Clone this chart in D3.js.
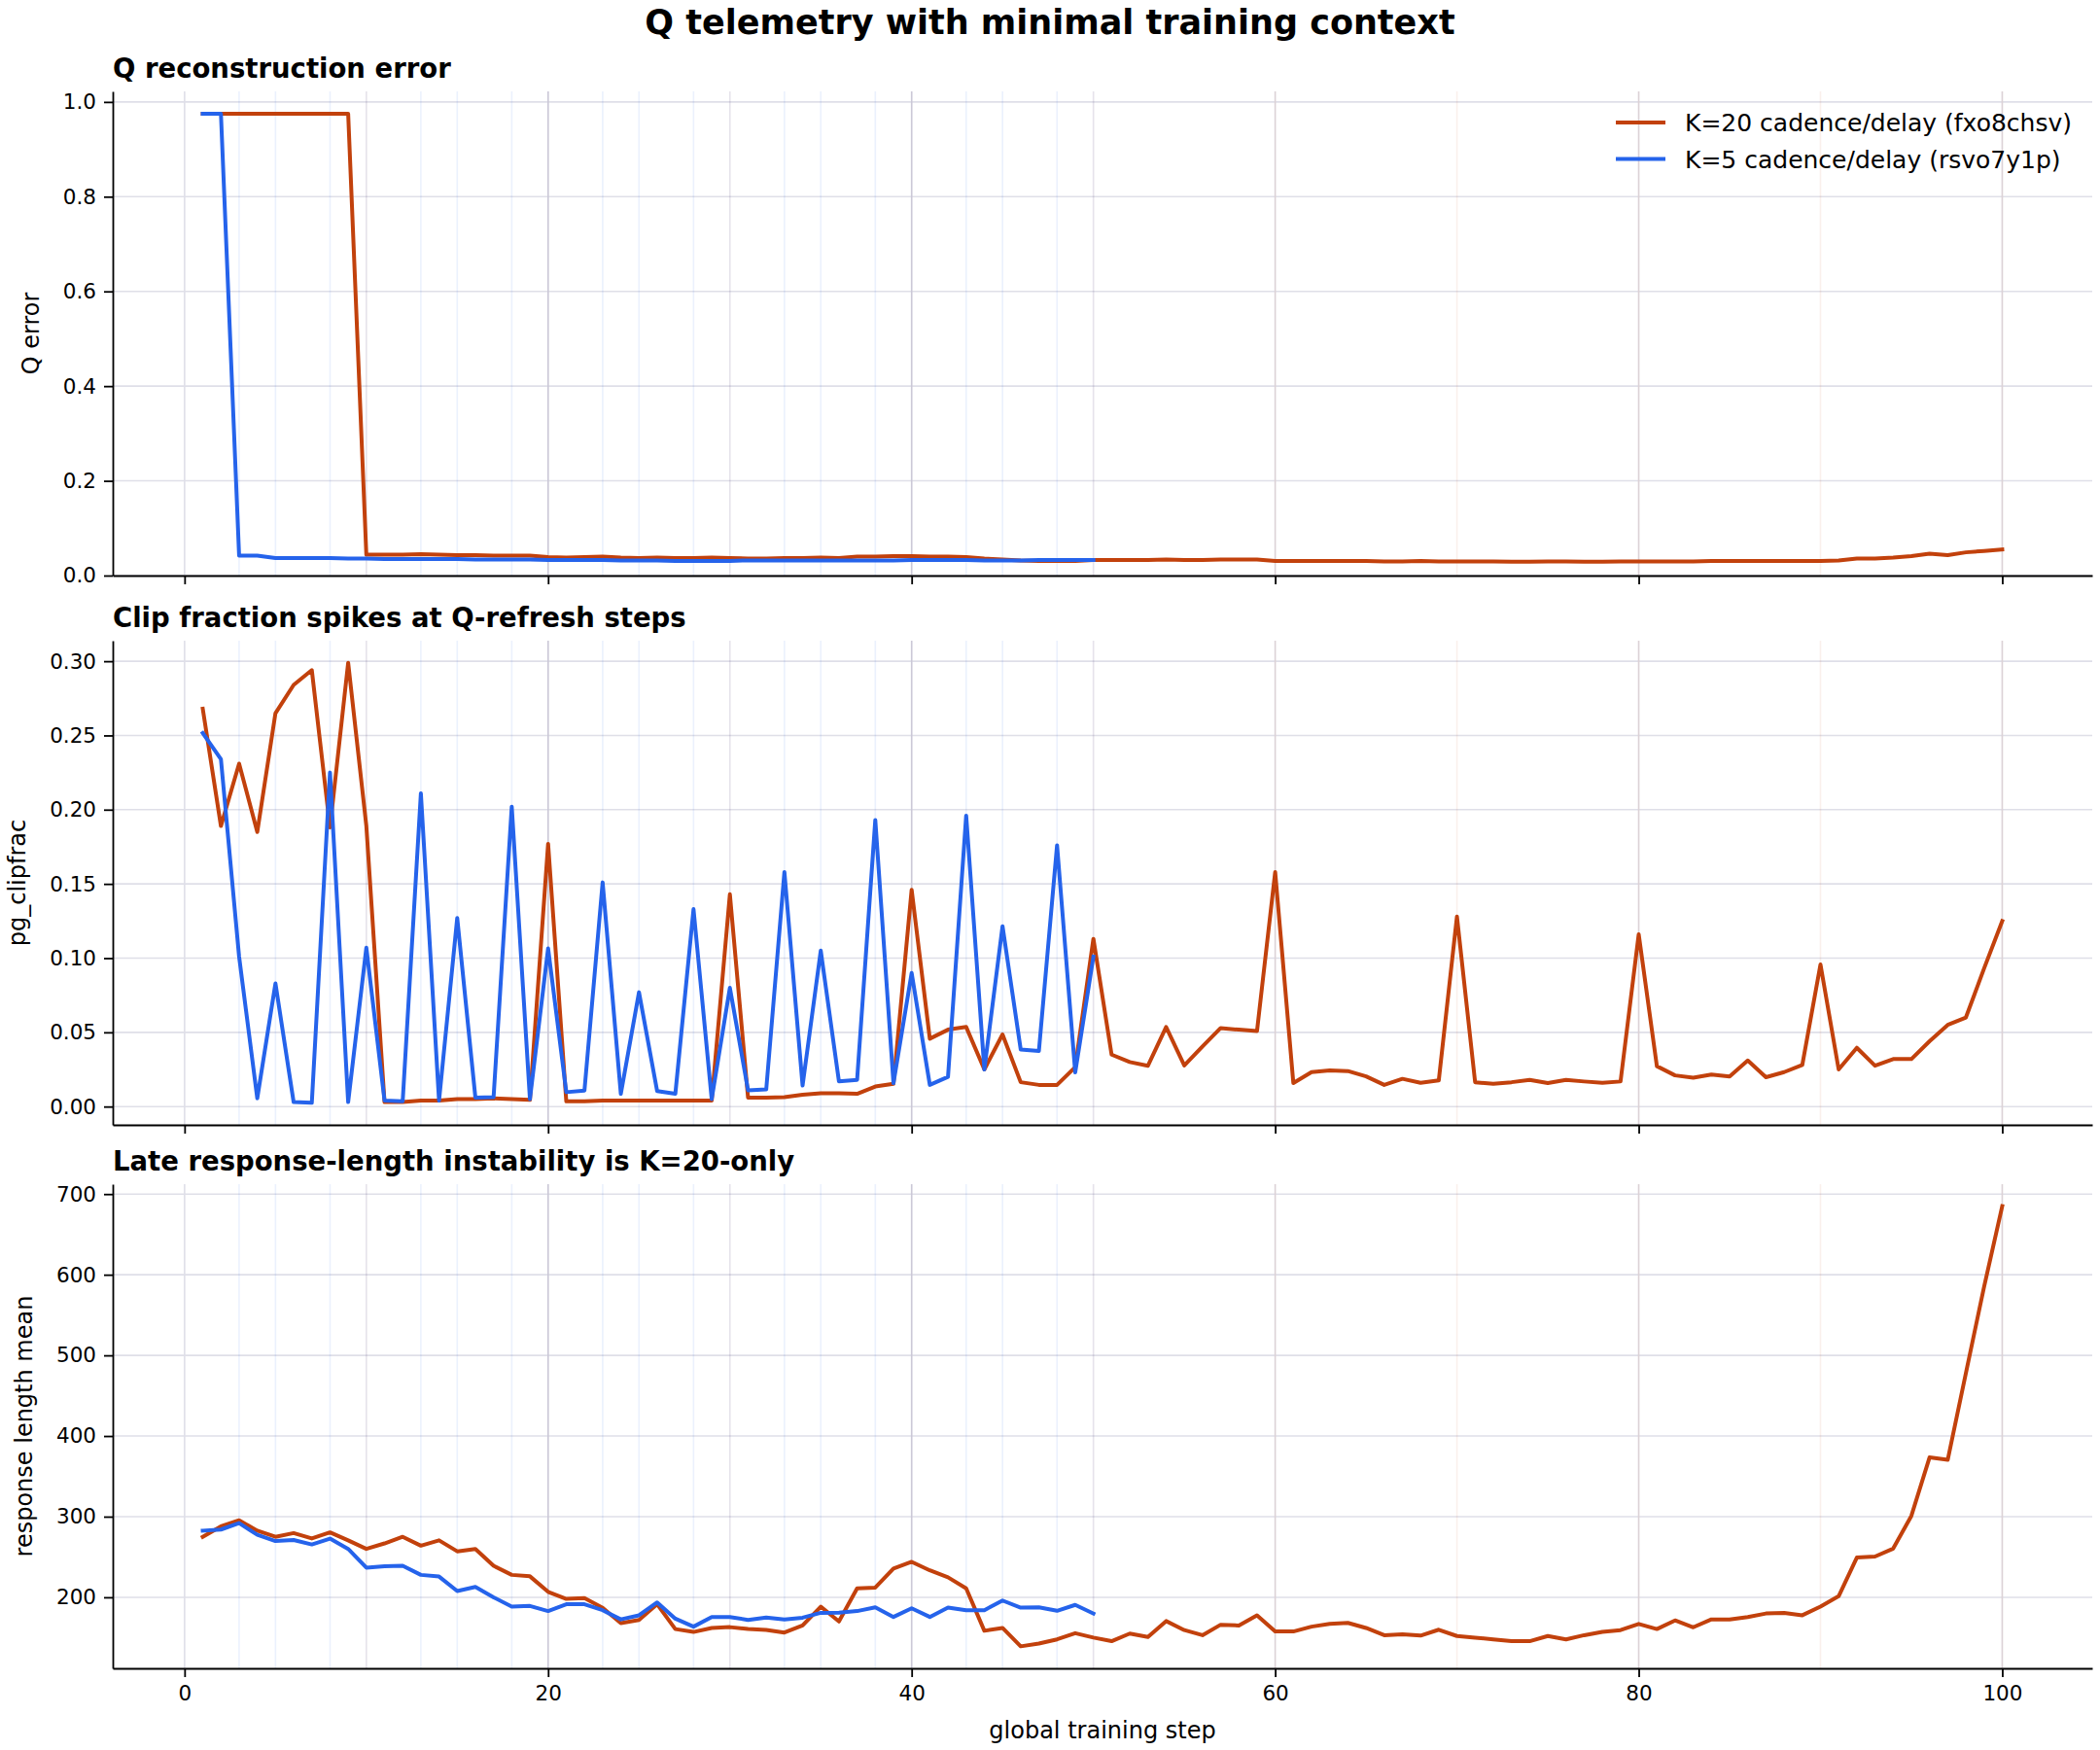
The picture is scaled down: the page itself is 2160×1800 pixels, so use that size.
<!DOCTYPE html>
<html>
<head>
<meta charset="utf-8">
<script src="https://cdn.jsdelivr.net/npm/d3@7/dist/d3.min.js"></script>
<style>
  body { margin: 0; background: #fff; }
  svg, svg text { font-family: "DejaVu Sans", sans-serif; }
  .tick text { font-size: 21.5px; fill: #000; font-family: "DejaVu Sans", sans-serif; }
  .domain, .tick line { stroke: #000; stroke-width: 1.8; }
  .grid { stroke: #dfdfe8; stroke-width: 1.6; }
  .mark-k5 { stroke: #2563eb; stroke-opacity: 0.09; stroke-width: 1.6; }
  .mark-k20 { stroke: #c2410c; stroke-opacity: 0.08; stroke-width: 1.6; }
  .series { fill: none; stroke-width: 4; stroke-linejoin: round; stroke-linecap: square; }
  .ptitle { font-size: 27.5px; font-weight: bold; }
  .ylabel, .xlabel { font-size: 24px; }
  .legend text { font-size: 25px; }
</style>
</head>
<body>
<svg id="chart" width="2160" height="1800"></svg>
<script>
// runs: K=20 (fxo8chsv) 100 steps, K=5 (rsvo7y1p) 50 steps
var seriesNames = ["K=20 cadence/delay (fxo8chsv)", "K=5 cadence/delay (rsvo7y1p)"];
var seriesColors = ["#c2410c", "#2563eb"];

// Q reconstruction error
var qErrK20 = [0.975, 0.975, 0.975, 0.975, 0.975, 0.975, 0.975, 0.975, 0.975, 0.044,
  0.044, 0.044, 0.045, 0.044, 0.043, 0.043, 0.042, 0.042, 0.042, 0.039,
  0.038, 0.039, 0.040, 0.038, 0.037, 0.038, 0.037, 0.037, 0.038, 0.037,
  0.036, 0.036, 0.037, 0.037, 0.038, 0.037, 0.040, 0.040, 0.041, 0.041,
  0.040, 0.040, 0.039, 0.036, 0.034, 0.032, 0.031, 0.031, 0.031, 0.033,
  0.033, 0.033, 0.033, 0.034, 0.033, 0.033, 0.034, 0.034, 0.034, 0.031,
  0.031, 0.031, 0.031, 0.031, 0.031, 0.030, 0.030, 0.031, 0.030, 0.030,
  0.030, 0.030, 0.029, 0.029, 0.030, 0.030, 0.029, 0.029, 0.030, 0.030,
  0.030, 0.030, 0.030, 0.031, 0.031, 0.031, 0.031, 0.031, 0.031, 0.031,
  0.032, 0.036, 0.036, 0.038, 0.041, 0.046, 0.043, 0.049, 0.052, 0.055];
var qErrK5 = [0.975, 0.975, 0.042, 0.042, 0.037, 0.037, 0.037, 0.037, 0.036, 0.036,
  0.035, 0.035, 0.035, 0.035, 0.035, 0.034, 0.034, 0.034, 0.034, 0.033,
  0.033, 0.033, 0.033, 0.032, 0.032, 0.032, 0.031, 0.031, 0.031, 0.031,
  0.032, 0.032, 0.032, 0.032, 0.032, 0.032, 0.032, 0.032, 0.032, 0.033,
  0.033, 0.033, 0.033, 0.032, 0.032, 0.032, 0.033, 0.033, 0.033, 0.033];

// pg_clipfrac
var clipK20 = [0.268, 0.189, 0.231, 0.185, 0.265, 0.284, 0.294, 0.188, 0.299, 0.189,
  0.003, 0.003, 0.004, 0.004, 0.005, 0.005, 0.0055, 0.005, 0.0045, 0.177,
  0.0035, 0.0035, 0.004, 0.004, 0.004, 0.004, 0.004, 0.004, 0.004, 0.143,
  0.006, 0.006, 0.0063, 0.008, 0.009, 0.009, 0.0086, 0.0135, 0.0153, 0.146,
  0.0457, 0.0518, 0.0536, 0.025, 0.0486, 0.0164, 0.0146, 0.0146, 0.0266, 0.113,
  0.035, 0.030, 0.0275, 0.0536, 0.0277, 0.0405, 0.0529, 0.0518, 0.0509, 0.158,
  0.0158, 0.0232, 0.0243, 0.0239, 0.0203, 0.0146, 0.0187, 0.016, 0.0176, 0.128,
  0.0164, 0.0153, 0.0164, 0.018, 0.0158, 0.018, 0.0169, 0.016, 0.0169, 0.116,
  0.0272, 0.021, 0.0194, 0.0216, 0.0203, 0.031, 0.0198, 0.0232, 0.028, 0.0957,
  0.025, 0.0396, 0.0275, 0.032, 0.032, 0.044, 0.055, 0.060, 0.093, 0.125];
var clipK5 = [0.2516, 0.234, 0.101, 0.0056, 0.083, 0.003, 0.0025, 0.225, 0.003, 0.107,
  0.004, 0.0036, 0.211, 0.004, 0.127, 0.006, 0.0063, 0.202, 0.005, 0.1065,
  0.0097, 0.0108, 0.151, 0.0086, 0.077, 0.0104, 0.0086, 0.133, 0.005, 0.080,
  0.011, 0.0115, 0.158, 0.0142, 0.105, 0.017, 0.018, 0.193, 0.0158, 0.090,
  0.0146, 0.020, 0.196, 0.025, 0.1215, 0.0385, 0.0374, 0.176, 0.023, 0.101];

// response length mean
var lenK20 = [275, 288, 295.5, 282.6, 275, 279.6, 273, 280.5, 270.6, 260,
  266.8, 275, 264, 270.6, 257, 260, 239, 227.8, 226, 206.8,
  198, 199, 187, 168, 172, 191.4, 160.6, 157, 162, 163,
  160.6, 159.5, 156.3, 165, 188.4, 170, 211, 212, 235.5, 244,
  233.4, 224.8, 211, 158.5, 162, 139.2, 142.6, 147.8, 155.5, 150,
  145.6, 155, 150.8, 170.5, 159.3, 153, 166, 165, 177.7, 157.6,
  157.6, 163.6, 167, 168.3, 162, 153, 154.2, 152.5, 159.8, 152,
  150, 147.8, 145.6, 145.6, 152, 147.8, 153, 157.2, 159.3, 167,
  160.6, 171.3, 162.8, 172.6, 172.6, 175.6, 179.9, 180.7, 177.7, 188.4,
  201.3, 249.2, 250.5, 260.4, 301, 373.4, 370.4, 478, 585, 685];
var lenK5 = [282.6, 284, 292, 277.5, 269.8, 271, 265.5, 272.8, 260, 236.8,
  238.5, 239, 227.8, 225.7, 207.7, 212.8, 200, 188.4, 189.3, 182.9,
  191.4, 191.4, 184, 172.6, 177.7, 193.6, 173.5, 163.6, 175.6, 175.6,
  172, 175, 172.6, 174.7, 180.7, 181, 182.9, 187.6, 175.6, 186.3,
  175.6, 187.2, 184, 184, 196, 187.2, 187.6, 183.3, 190.6, 179.9];

// Q-refresh steps marked with faint vertical lines
var refreshK5 = [3, 5, 8, 10, 13, 15, 18, 20, 23, 25, 28, 30, 33, 35, 38, 40, 43, 45, 48, 50];
var refreshK20 = [10, 20, 30, 40, 50, 60, 70, 80, 90, 100];

var xTicks = [0, 20, 40, 60, 80, 100];
var qTicks = [0, 0.2, 0.4, 0.6, 0.8, 1.0];
var clipTicks = [0, 0.05, 0.10, 0.15, 0.20, 0.25, 0.30];
var lenTicks = [200, 300, 400, 500, 600, 700];

var svg = d3.select("#chart"),
    width = +svg.attr("width"),
    height = +svg.attr("height");

var left = 116, right = 2152;

// matplotlib style 5% margins on the x range of the data
var x = d3.scaleLinear()
  .domain([1 - 99 * 0.05, 100 + 99 * 0.05])
  .range([left, right]);

function toPoints(arr) {
  return arr.map(function(v, i) { return {step: i + 1, v: v}; });
}

function padded(arrs, zeroFloor) {
  var all = d3.merge(arrs),
      lo = d3.min(all), hi = d3.max(all),
      m = (hi - lo) * 0.05;
  return [zeroFloor ? 0 : lo - m, hi + m];
}

var panels = [
  {title: "Q reconstruction error", ylabel: "Q error", top: 94, bottom: 592,
   k20: qErrK20, k5: qErrK5, ticks: qTicks, fmt: d3.format(".1f"), zero: true, legend: true},
  {title: "Clip fraction spikes at Q-refresh steps", ylabel: "pg_clipfrac", top: 659, bottom: 1157,
   k20: clipK20, k5: clipK5, ticks: clipTicks, fmt: d3.format(".2f")},
  {title: "Late response-length instability is K=20-only", ylabel: "response length mean", top: 1218, bottom: 1716,
   k20: lenK20, k5: lenK5, ticks: lenTicks, fmt: d3.format("d"), xlabels: true}
];

svg.append("text")
  .attr("x", width / 2)
  .attr("y", 35)
  .attr("text-anchor", "middle")
  .attr("font-size", "35px")
  .attr("font-weight", "bold")
  .text("Q telemetry with minimal training context");

panels.forEach(function(p) {
  var y = d3.scaleLinear()
    .domain(padded([p.k20, p.k5], p.zero))
    .range([p.bottom, p.top]);

  var g = svg.append("g");

  // grid
  g.selectAll(".hgrid")
    .data(p.ticks)
    .enter().append("line")
      .attr("class", "grid")
      .attr("x1", left).attr("x2", right)
      .attr("y1", function(d) { return y(d); })
      .attr("y2", function(d) { return y(d); });
  g.selectAll(".vgrid")
    .data(xTicks)
    .enter().append("line")
      .attr("class", "grid")
      .attr("x1", function(d) { return x(d); })
      .attr("x2", function(d) { return x(d); })
      .attr("y1", p.top).attr("y2", p.bottom);

  // refresh markers
  g.selectAll(".mk20")
    .data(refreshK20)
    .enter().append("line")
      .attr("class", "mark-k20")
      .attr("x1", function(d) { return x(d); })
      .attr("x2", function(d) { return x(d); })
      .attr("y1", p.top).attr("y2", p.bottom);
  g.selectAll(".mk5")
    .data(refreshK5)
    .enter().append("line")
      .attr("class", "mark-k5")
      .attr("x1", function(d) { return x(d); })
      .attr("x2", function(d) { return x(d); })
      .attr("y1", p.top).attr("y2", p.bottom);

  var line = d3.line()
    .x(function(d) { return x(d.step); })
    .y(function(d) { return y(d.v); });

  [p.k20, p.k5].forEach(function(arr, i) {
    g.append("path")
      .datum(toPoints(arr))
      .attr("class", "series")
      .attr("stroke", seriesColors[i])
      .attr("d", line);
  });

  // axes
  var xAxis = d3.axisBottom(x)
    .tickValues(xTicks)
    .tickSize(9)
    .tickSizeOuter(0)
    .tickPadding(9);
  if (!p.xlabels) xAxis.tickFormat("");
  g.append("g")
    .attr("transform", "translate(0," + p.bottom + ")")
    .call(xAxis);

  var yAxis = g.append("g")
    .attr("transform", "translate(" + left + ",0)")
    .call(d3.axisLeft(y)
      .tickValues(p.ticks)
      .tickFormat(p.fmt)
      .tickSize(9)
      .tickSizeOuter(0)
      .tickPadding(8));
  g.selectAll(".domain").attr("fill", "none");

  // y label sits left of the widest tick label
  var minX = d3.min(yAxis.selectAll(".tick text").nodes(), function(n) { return n.getBBox().x; });
  g.append("text")
    .attr("class", "ylabel")
    .attr("transform", "translate(" + (left + minX - 25) + "," + ((p.top + p.bottom) / 2) + ") rotate(-90)")
    .attr("text-anchor", "middle")
    .text(p.ylabel);

  g.append("text")
    .attr("class", "ptitle")
    .attr("x", left)
    .attr("y", p.top - 14.5)
    .text(p.title);

  if (p.legend) {
    var lg = g.append("g").attr("class", "legend");
    seriesNames.forEach(function(name, i) {
      var ly = 126 + i * 37.5;
      lg.append("line")
        .attr("x1", 1662).attr("x2", 1713)
        .attr("y1", ly).attr("y2", ly)
        .attr("stroke", seriesColors[i])
        .attr("stroke-width", 4);
      lg.append("text")
        .attr("x", 1733)
        .attr("y", ly)
        .attr("dy", "0.36em")
        .text(name);
    });
  }

  if (p.xlabels) {
    g.append("text")
      .attr("class", "xlabel")
      .attr("x", (left + right) / 2)
      .attr("y", 1788)
      .attr("text-anchor", "middle")
      .text("global training step");
  }
});
</script>
</body>
</html>
